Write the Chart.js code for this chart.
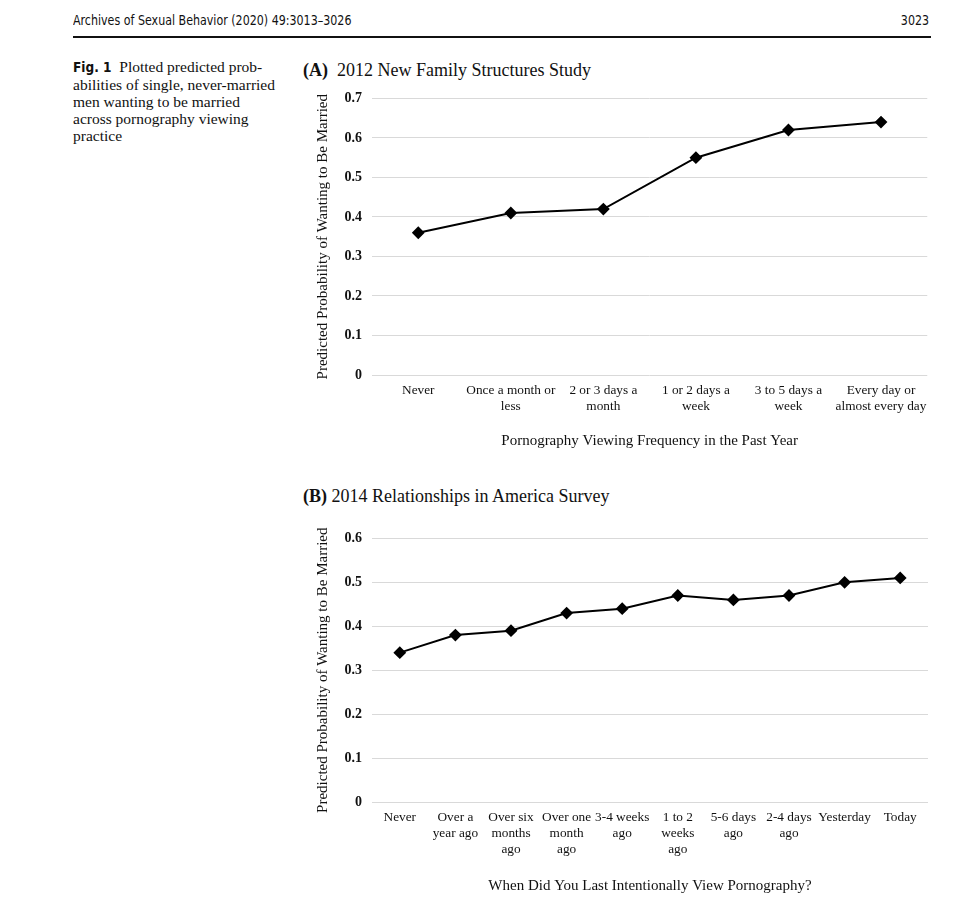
<!DOCTYPE html>
<html>
<head>
<meta charset="utf-8">
<script src="https://cdn.jsdelivr.net/npm/chart.js@4.4.1/dist/chart.umd.min.js"></script>
<style>
  body { margin: 0; background: #fff; width: 967px; height: 905px; position: relative; overflow: hidden; }
  .hdr { position: absolute; top: 12px; font-family: "DejaVu Sans Condensed", "DejaVu Sans", sans-serif; font-stretch: condensed; font-size: 14px; color: #111; transform: scaleX(0.88); }
  .rule { position: absolute; left: 73px; top: 36px; width: 858px; height: 2px; background: #111; }
  .cap { position: absolute; left: 73px; top: 58px; width: 220px; font-family: "Liberation Serif", serif; font-size: 15.5px; line-height: 17px; color: #111; }
  .cap b { font-family: "DejaVu Sans Condensed", "DejaVu Sans", sans-serif; font-stretch: condensed; font-size: 13.5px; font-weight: bold; margin-right: 4px; }
  .ttl { position: absolute; left: 303px; font-family: "Liberation Serif", serif; font-size: 18px; color: #111; }
  .box { position: absolute; }
</style>
</head>
<body>
<div class="hdr" style="left:73px;transform-origin:left top">Archives of Sexual Behavior (2020) 49:3013–3026</div>
<div class="hdr" style="right:38px;transform-origin:right top">3023</div>
<div class="rule"></div>
<div class="cap"><b>Fig. 1</b> Plotted predicted prob-<br>abilities of single, never-married<br>men wanting to be married<br>across pornography viewing<br>practice</div>

<div class="ttl" style="top:60px"><b>(A)</b>&nbsp; 2012 New Family Structures Study</div>
<div class="box" style="left:310px;top:80px;width:625px;height:375px"><canvas id="chartA"></canvas></div>

<div class="ttl" style="top:486px"><b>(B)</b> 2014 Relationships in America Survey</div>
<div class="box" style="left:310px;top:520px;width:625px;height:380px"><canvas id="chartB"></canvas></div>

<script>
// panel A: 2012 New Family Structures Study
var labelsA = [
  "Never",
  ["Once a month or", "less"],
  ["2 or 3 days a", "month"],
  ["1 or 2 days a", "week"],
  ["3 to 5 days a", "week"],
  ["Every day or", "almost every day"]
];
var valuesA = [0.36, 0.41, 0.42, 0.55, 0.62, 0.64];

// panel B: 2014 Relationships in America Survey
var labelsB = [
  "Never",
  ["Over a", "year ago"],
  ["Over six", "months", "ago"],
  ["Over one", "month", "ago"],
  ["3-4 weeks", "ago"],
  ["1 to 2", "weeks", "ago"],
  ["5-6 days", "ago"],
  ["2-4 days", "ago"],
  "Yesterday",
  "Today"
];
var valuesB = [0.34, 0.38, 0.39, 0.43, 0.44, 0.47, 0.46, 0.47, 0.50, 0.51];

var yTitle = "Predicted Probability of Wanting to Be Married";
var serif = "'Liberation Serif', 'Times New Roman', serif";

function makeChart(id, labels, values, yMax, xTitle, xHeight) {
  var ctx = document.getElementById(id);
  return new Chart(ctx, {
    type: 'line',
    data: {
      labels: labels,
      datasets: [{
        data: values,
        borderColor: '#000',
        backgroundColor: '#000',
        borderWidth: 2,
        pointStyle: 'rectRot',
        pointRadius: 5,
        pointHoverRadius: 5,
        tension: 0
      }]
    },
    options: {
      responsive: true,
      maintainAspectRatio: false,
      animation: false,
      layout: { padding: { top: 16, right: 7, left: 0, bottom: 0 } },
      plugins: { legend: { display: false }, tooltip: { enabled: false } },
      scales: {
        x: {
          offset: true,
          grid: { display: false, drawTicks: false },
          border: { display: false },
          ticks: {
            color: '#111', padding: 8, maxRotation: 0, minRotation: 0, autoSkip: false,
            font: { family: serif, size: 13.3, lineHeight: 1.18 }
          },
          title: {
            display: true, text: xTitle, color: '#111',
            font: { family: serif, size: 15 }, padding: { top: 4, bottom: 5 }
          },
          afterFit: function(scale) { scale.height = xHeight; }
        },
        y: {
          min: 0, max: yMax,
          grid: { color: '#d9d9d9', lineWidth: 1, drawTicks: false },
          border: { display: false },
          ticks: {
            stepSize: 0.1, color: '#111', padding: 10,
            font: { family: serif, size: 14, weight: 'bold' },
            callback: function(v) { return v === 0 ? '0' : v.toFixed(1); }
          },
          title: {
            display: true, text: yTitle, color: '#111',
            font: { family: serif, size: 15 }, padding: { top: 4, bottom: 0 }
          },
          afterFit: function(scale) { scale.width = 62; }
        }
      }
    }
  });
}

makeChart('chartA', labelsA, valuesA, 0.7, "Pornography Viewing Frequency in the Past Year", 80);
makeChart('chartB', labelsB, valuesB, 0.6, "When Did You Last Intentionally View Pornography?", 98);
</script>
</body>
</html>
